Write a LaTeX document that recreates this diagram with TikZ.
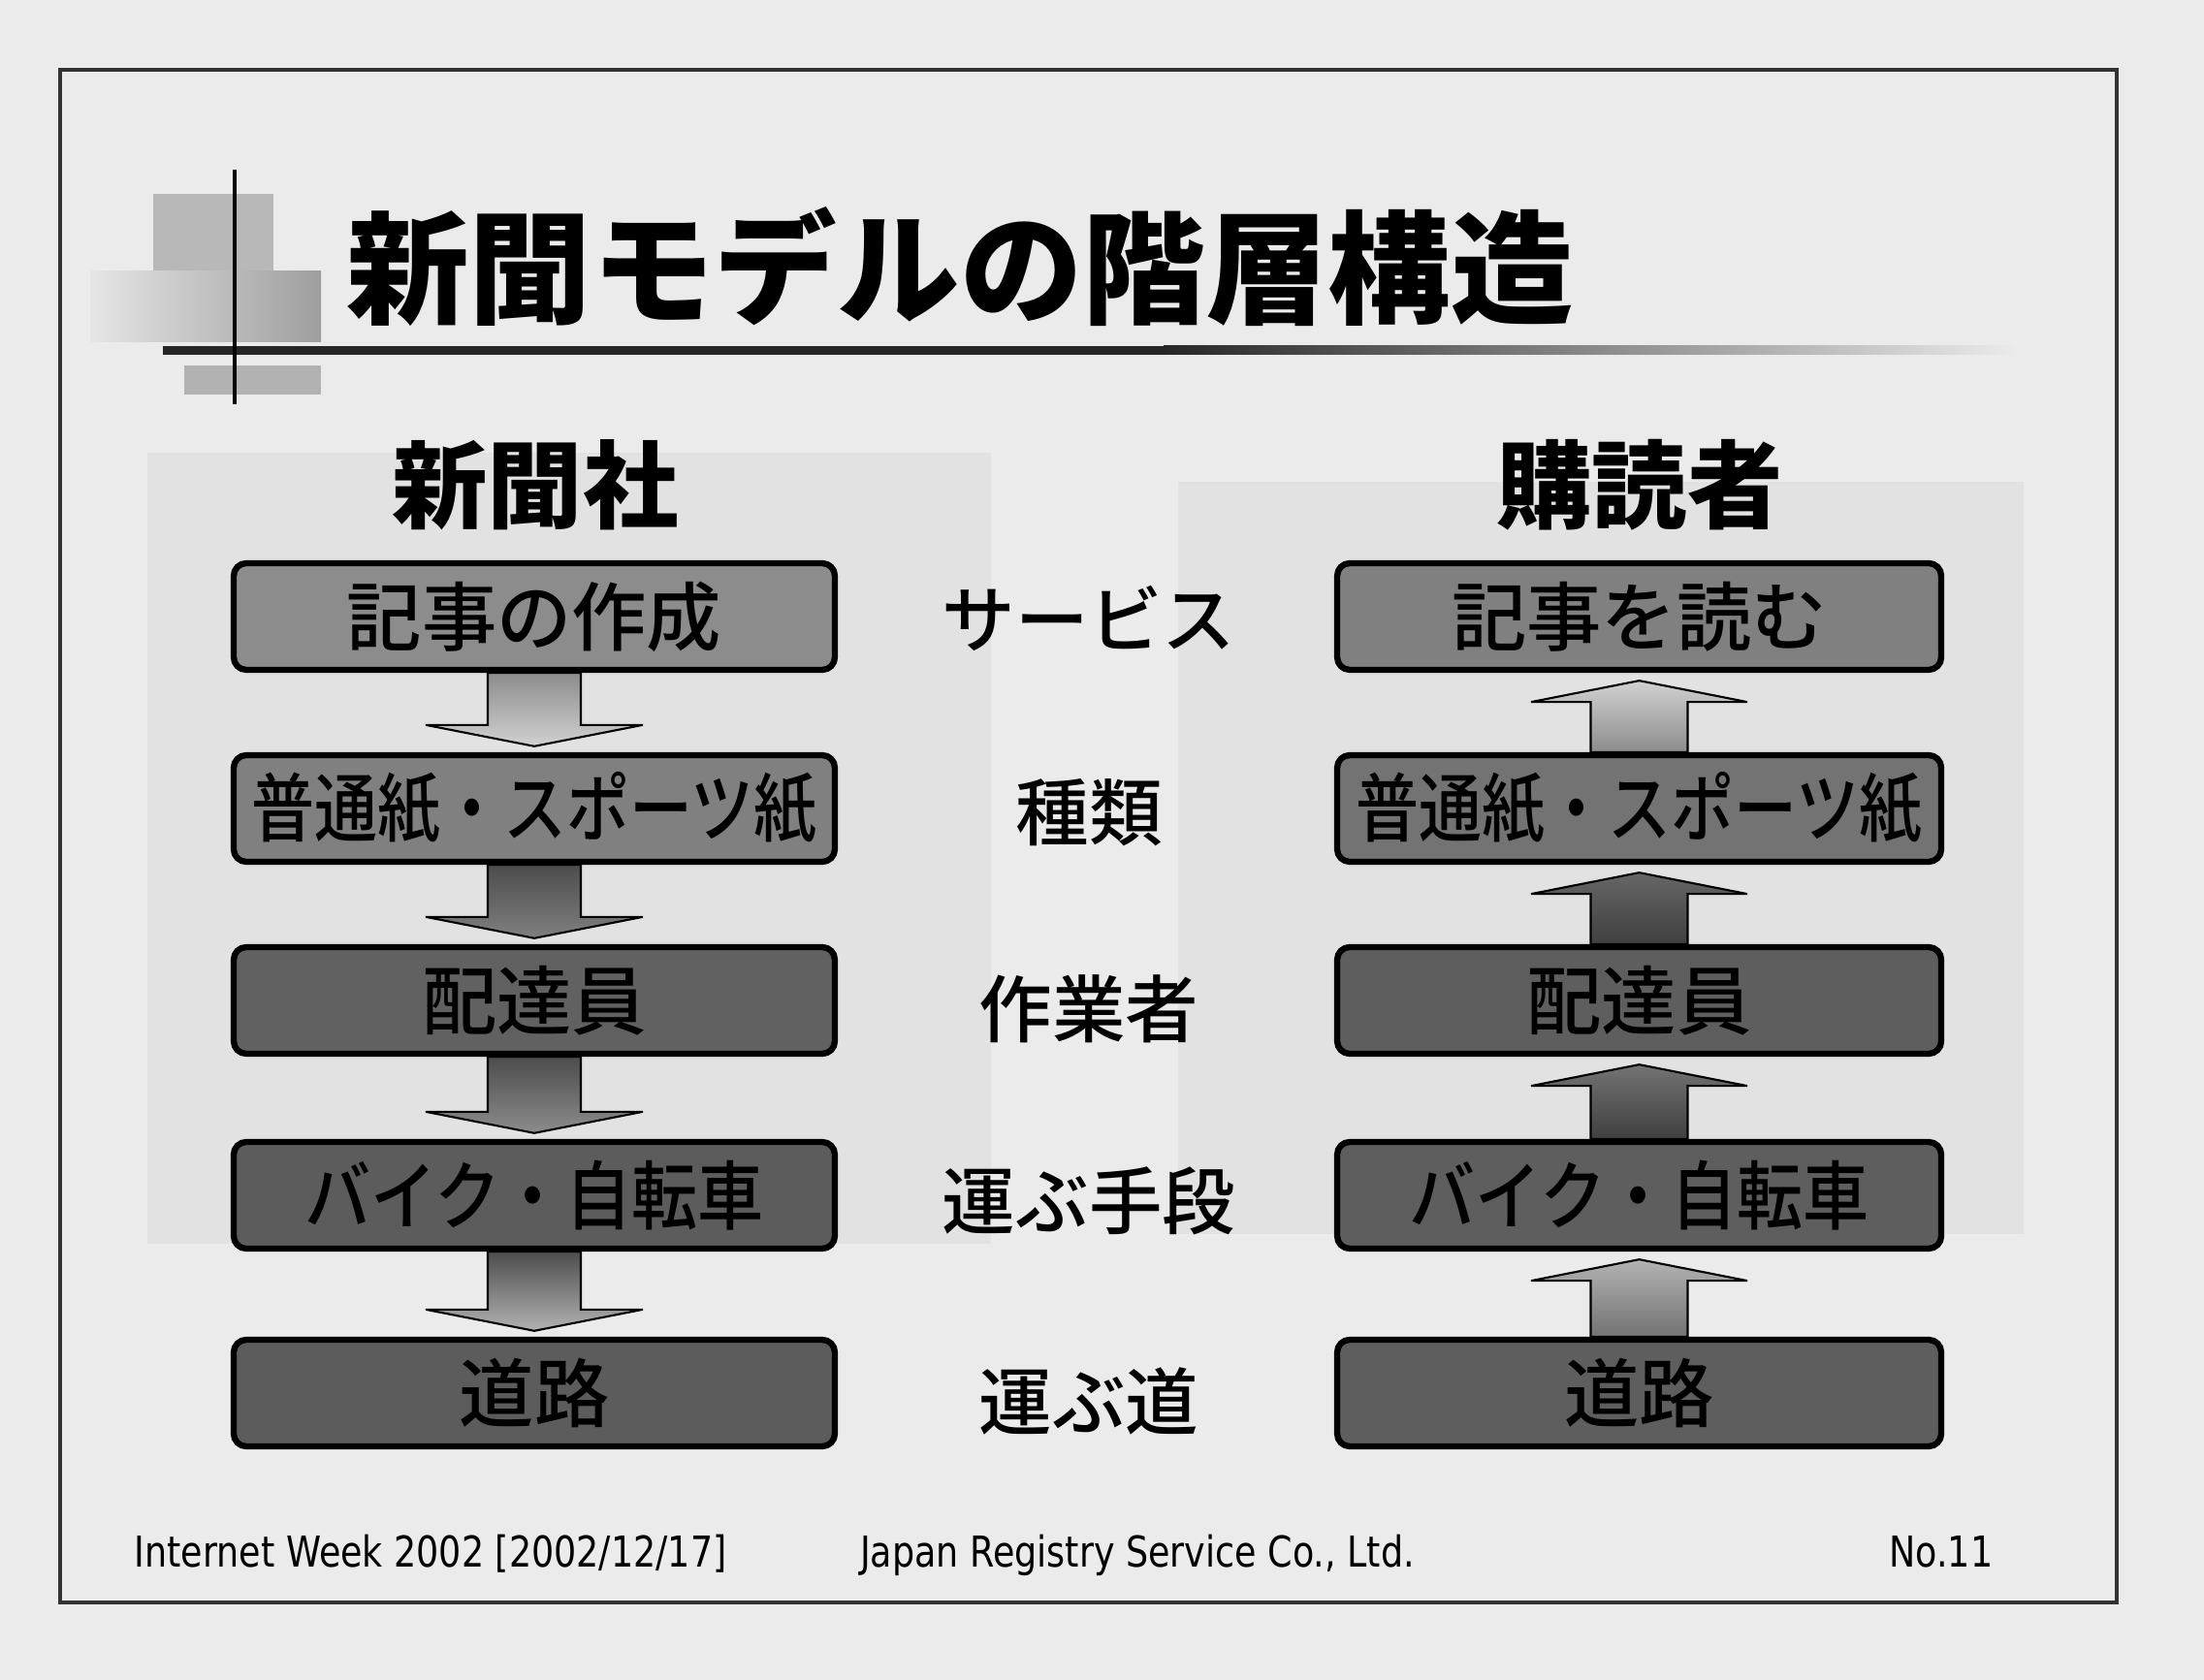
\documentclass[tikz,border=0pt]{standalone}
\usepackage{fontspec}
\usepackage{tikz}
\usetikzlibrary{calc,positioning}
\newfontfamily\jpfont{Noto Sans CJK JP}
\newfontfamily\jpmed{Noto Sans CJK JP Medium}
\newfontfamily\footfont{DejaVu Sans}
\definecolor{paper}{HTML}{EBEBEB}
\definecolor{ghost}{HTML}{E2E2E2}
\tikzstyle{layer}=[draw=black, line width=1.8pt, rounded corners=0.13cm, minimum width=6.2cm, minimum height=1.1cm, inner sep=0pt, font=\jpmed\fontsize{22}{22}\selectfont]
\tikzstyle{role}=[font=\jpmed\fontsize{21.5}{21.5}\selectfont]
\tikzstyle{head}=[font=\jpfont\bfseries\fontsize{28}{28}\selectfont]
\tikzstyle{blk}=[draw=black, line width=0.6pt, line join=miter]
\tikzstyle{foot}=[font=\footfont\fontsize{12.5}{12.5}\selectfont, inner sep=0pt]
\newcommand{\downblk}[4]{\draw[blk, top color=#3, bottom color=#4] ($(#1.south)+(-0.48,0)$) -- ($(#1.south)+(0.48,0)$) -- ($(#2.north)+(0.48,0.28)$) -- ($(#2.north)+(1.12,0.28)$) -- ($(#2.north)+(0,0.06)$) -- ($(#2.north)+(-1.12,0.28)$) -- ($(#2.north)+(-0.48,0.28)$) -- cycle;}
\newcommand{\upblk}[4]{\draw[blk, bottom color=#3, top color=#4] ($(#1.north)+(-0.5,0)$) -- ($(#1.north)+(0.5,0)$) -- ($(#2.south)+(0.5,-0.30)$) -- ($(#2.south)+(1.115,-0.30)$) -- ($(#2.south)+(0,-0.08)$) -- ($(#2.south)+(-1.115,-0.30)$) -- ($(#2.south)+(-0.5,-0.30)$) -- cycle;}
\newcommand{\squeeze}[2]{\scalebox{#1}[1]{#2}}

\begin{document}
\begin{tikzpicture}
\useasboundingbox (0,0) rectangle (22.73,17.33);
\fill[paper] (0,0) rectangle (22.73,17.33);
\fill[ghost] (1.52,12.66) rectangle (10.22,4.50);
\fill[ghost] (12.15,12.36) rectangle (20.87,4.60);
\draw[line width=0.9pt, black!80] (0.62,16.61) rectangle (21.83,0.80);

\fill[black!28] (1.58,15.33) rectangle (2.82,14.51);
\shade[left color=black!10, right color=black!38] (0.93,14.53) rectangle (3.31,13.80);
\fill[black!30] (1.90,13.56) rectangle (3.31,13.26);
\fill[black!85] (1.68,13.67) rectangle (12.0,13.76);
\shade[left color=black!85, right color=paper] (12.0,13.67) rectangle (20.8,13.76);
\draw[line width=1.1pt] (2.42,15.58) -- (2.42,13.16);
\node[font=\jpfont\bfseries\fontsize{36}{36}\selectfont] (title) at (9.90,14.58) {新聞モデルの階層構造};

\node[head] (press) at (5.52,12.33) {新聞社};
\node[head] (reader) at (16.91,12.33) {購読者};

\node[layer, fill=black!45] (p1) at (5.51,10.97) {記事の作成};
\node[layer, fill=black!50] (p2) at (5.51,8.99) {\squeeze{0.84}{普通紙・スポーツ紙}};
\node[layer, fill=black!62] (p3) at (5.51,7.01) {配達員};
\node[layer, fill=black!64] (p4) at (5.51,5.00) {\squeeze{0.88}{バイク・自転車}};
\node[layer, fill=black!64] (p5) at (5.51,2.96) {道路};

\node[layer, fill=black!50, minimum width=6.23cm] (r1) at (16.905,10.97) {記事を読む};
\node[layer, fill=black!55, minimum width=6.23cm] (r2) at (16.905,8.99) {\squeeze{0.84}{普通紙・スポーツ紙}};
\node[layer, fill=black!63, minimum width=6.23cm] (r3) at (16.905,7.01) {配達員};
\node[layer, fill=black!63, minimum width=6.23cm] (r4) at (16.905,5.00) {\squeeze{0.88}{バイク・自転車}};
\node[layer, fill=black!63, minimum width=6.23cm] (r5) at (16.905,2.96) {道路};

\node[role] (service) at (11.23,10.95) {サービス};
\node[role] (kind) at (11.23,8.95) {種類};
\node[role] (worker) at (11.23,6.92) {作業者};
\node[role] (means) at (11.23,4.94) {運ぶ手段};
\node[role] (route) at (11.23,2.88) {運ぶ道};

\downblk{p1}{p2}{black!45}{black!18}
\downblk{p2}{p3}{black!70}{black!50}
\downblk{p3}{p4}{black!70}{black!45}
\downblk{p4}{p5}{black!70}{black!30}

\upblk{r2}{r1}{black!45}{black!18}
\upblk{r3}{r2}{black!75}{black!60}
\upblk{r4}{r3}{black!75}{black!55}
\upblk{r5}{r4}{black!55}{black!30}

\node[foot, anchor=base west] (event) at (1.38,1.16) {\squeeze{0.83}{Internet Week 2002 [2002/12/17]}};
\node[foot, anchor=base] (company) at (11.73,1.16) {\squeeze{0.83}{Japan Registry Service Co., Ltd.}};
\node[foot, anchor=base east] (pageno) at (20.56,1.16) {\squeeze{0.83}{No.11}};
\end{tikzpicture}
\end{document}
